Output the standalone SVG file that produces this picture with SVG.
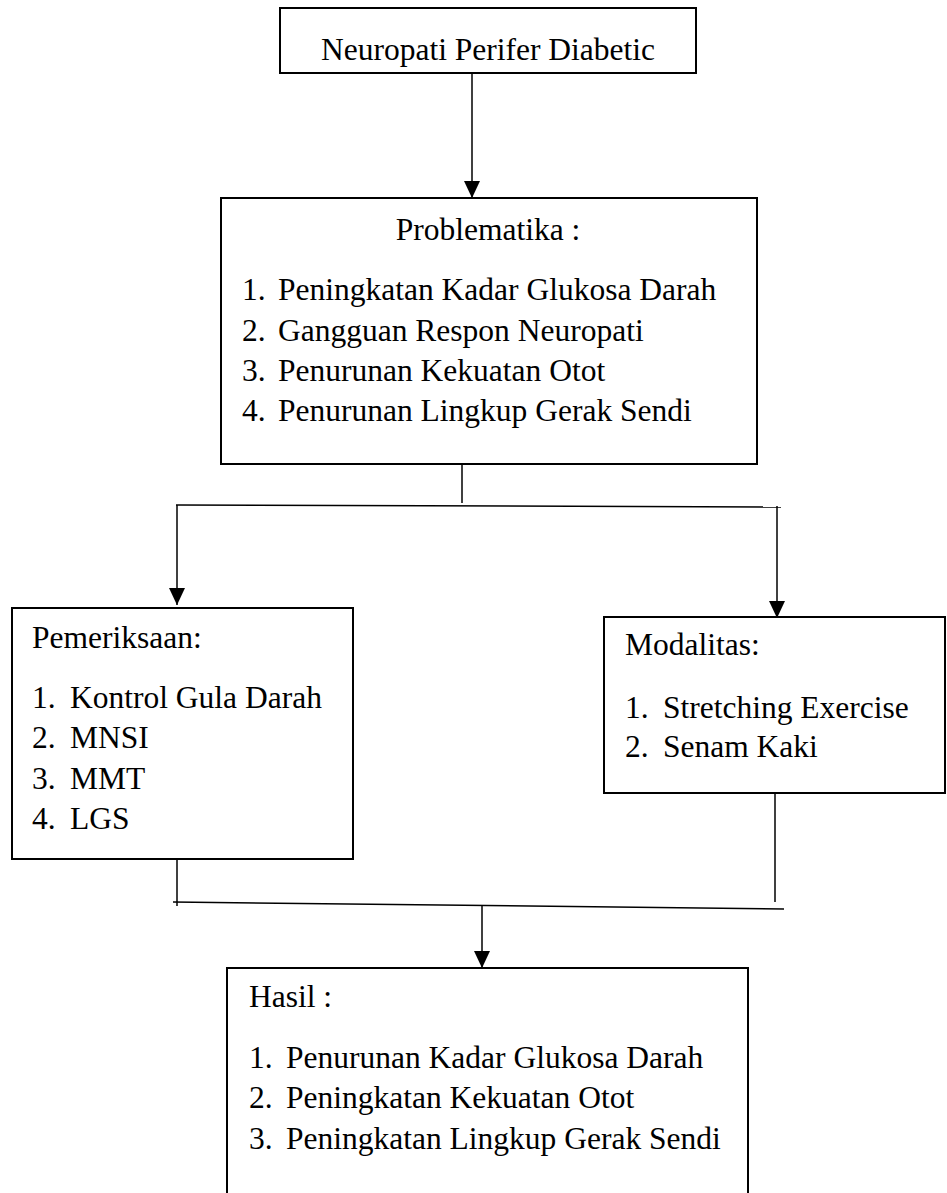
<svg xmlns="http://www.w3.org/2000/svg" width="947" height="1193" viewBox="0 0 947 1193">
<style>
.box{fill:#fff;stroke:#000;stroke-width:2}
.ln{fill:none;stroke:#000;stroke-width:1.5}
text{font-family:"Liberation Serif","Times New Roman",serif;font-size:31.5px;fill:#000}
.c{text-anchor:middle}
</style>
<defs>
<marker id="ah" markerUnits="userSpaceOnUse" markerWidth="18" markerHeight="16" refX="17" refY="8" orient="auto" viewBox="0 0 18 16">
<path d="M0,0 L17,8 L0,16 Z" fill="#000"/>
</marker>
</defs>
<rect width="947" height="1193" fill="#fff"/>
<g id="connectors">
<line class="ln" x1="472" y1="73" x2="472" y2="198" marker-end="url(#ah)"/>
<line class="ln" x1="462" y1="464" x2="462" y2="503"/>
<line class="ln" x1="176" y1="505" x2="781" y2="507"/>
<line class="ln" x1="177" y1="505" x2="177" y2="605" marker-end="url(#ah)"/>
<line class="ln" x1="777" y1="506" x2="777" y2="618" marker-end="url(#ah)"/>
<line class="ln" x1="177" y1="853" x2="177" y2="906"/>
<line class="ln" x1="775" y1="788" x2="775" y2="902"/>
<line class="ln" x1="173" y1="902" x2="784" y2="909"/>
<line class="ln" x1="482" y1="906" x2="482" y2="968" marker-end="url(#ah)"/>
</g>
<g id="node-neuropati">
<rect class="box" x="280" y="8" width="416" height="65"/>
<text class="c" x="488" y="60">Neuropati Perifer Diabetic</text>
</g>
<g id="node-problematika">
<rect class="box" x="221" y="198" width="536" height="266"/>
<text class="c" x="488" y="240">Problematika :</text>
<text x="242" y="300">1.</text><text x="278" y="300">Peningkatan Kadar Glukosa Darah</text>
<text x="242" y="341">2.</text><text x="278" y="341">Gangguan Respon Neuropati</text>
<text x="242" y="381">3.</text><text x="278" y="381">Penurunan Kekuatan Otot</text>
<text x="242" y="421">4.</text><text x="278" y="421">Penurunan Lingkup Gerak Sendi</text>
</g>
<g id="node-pemeriksaan">
<rect class="box" x="12" y="608" width="341" height="251"/>
<text x="32" y="648">Pemeriksaan:</text>
<text x="32" y="708">1.</text><text x="70" y="708">Kontrol Gula Darah</text>
<text x="32" y="748">2.</text><text x="70" y="748">MNSI</text>
<text x="32" y="789">3.</text><text x="70" y="789">MMT</text>
<text x="32" y="829">4.</text><text x="70" y="829">LGS</text>
</g>
<g id="node-modalitas">
<rect class="box" x="604" y="617" width="341" height="176"/>
<text x="625" y="655">Modalitas:</text>
<text x="625" y="718">1.</text><text x="663" y="718">Stretching Exercise</text>
<text x="625" y="757">2.</text><text x="663" y="757">Senam Kaki</text>
</g>
<g id="node-hasil">
<rect class="box" x="227" y="968" width="521" height="240"/>
<text x="249" y="1007">Hasil :</text>
<text x="249" y="1068">1.</text><text x="286" y="1068">Penurunan Kadar Glukosa Darah</text>
<text x="249" y="1108">2.</text><text x="286" y="1108">Peningkatan Kekuatan Otot</text>
<text x="249" y="1149">3.</text><text x="286" y="1149">Peningkatan Lingkup Gerak Sendi</text>
</g>
</svg>
